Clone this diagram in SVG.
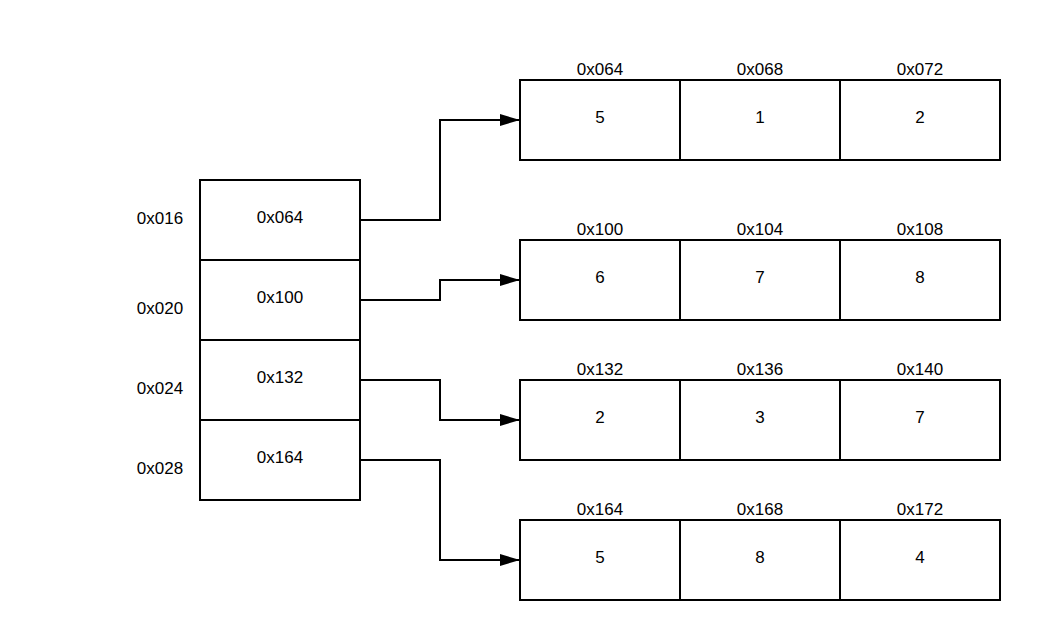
<svg xmlns="http://www.w3.org/2000/svg" width="1040" height="640" viewBox="0 0 1040 640">
<style>
.box{fill:#fff;stroke:#000;stroke-width:2}
.t{font-family:"Liberation Sans",Arial,sans-serif;font-size:17px;fill:#000;text-anchor:middle;dominant-baseline:central}
.c{fill:none;stroke:#000;stroke-width:2}
</style>
<defs>
<marker id="arr" markerWidth="20" markerHeight="12" refX="20" refY="6" orient="auto" markerUnits="userSpaceOnUse">
<path d="M0,0 L20,6 L0,12 Z" fill="#000"/>
</marker>
</defs>
<rect width="1040" height="640" fill="#fff"/>
<g id="pointers">
<rect class="box" x="200" y="180" width="160" height="80"/>
<rect class="box" x="200" y="260" width="160" height="80"/>
<rect class="box" x="200" y="340" width="160" height="80"/>
<rect class="box" x="200" y="420" width="160" height="80"/>
<text class="t" x="280" y="217">0x064</text>
<text class="t" x="280" y="297">0x100</text>
<text class="t" x="280" y="377">0x132</text>
<text class="t" x="280" y="457">0x164</text>
<text class="t" x="160" y="218">0x016</text>
<text class="t" x="160" y="308">0x020</text>
<text class="t" x="160" y="388">0x024</text>
<text class="t" x="160" y="468">0x028</text>
</g>
<g id="array1">
<rect class="box" x="520" y="80" width="160" height="80"/>
<rect class="box" x="680" y="80" width="160" height="80"/>
<rect class="box" x="840" y="80" width="160" height="80"/>
<text class="t" x="600" y="69">0x064</text>
<text class="t" x="760" y="69">0x068</text>
<text class="t" x="920" y="69">0x072</text>
<text class="t" x="600" y="117">5</text>
<text class="t" x="760" y="117">1</text>
<text class="t" x="920" y="117">2</text>
</g>
<g id="array2">
<rect class="box" x="520" y="240" width="160" height="80"/>
<rect class="box" x="680" y="240" width="160" height="80"/>
<rect class="box" x="840" y="240" width="160" height="80"/>
<text class="t" x="600" y="229">0x100</text>
<text class="t" x="760" y="229">0x104</text>
<text class="t" x="920" y="229">0x108</text>
<text class="t" x="600" y="277">6</text>
<text class="t" x="760" y="277">7</text>
<text class="t" x="920" y="277">8</text>
</g>
<g id="array3">
<rect class="box" x="520" y="380" width="160" height="80"/>
<rect class="box" x="680" y="380" width="160" height="80"/>
<rect class="box" x="840" y="380" width="160" height="80"/>
<text class="t" x="600" y="369">0x132</text>
<text class="t" x="760" y="369">0x136</text>
<text class="t" x="920" y="369">0x140</text>
<text class="t" x="600" y="417">2</text>
<text class="t" x="760" y="417">3</text>
<text class="t" x="920" y="417">7</text>
</g>
<g id="array4">
<rect class="box" x="520" y="520" width="160" height="80"/>
<rect class="box" x="680" y="520" width="160" height="80"/>
<rect class="box" x="840" y="520" width="160" height="80"/>
<text class="t" x="600" y="509">0x164</text>
<text class="t" x="760" y="509">0x168</text>
<text class="t" x="920" y="509">0x172</text>
<text class="t" x="600" y="557">5</text>
<text class="t" x="760" y="557">8</text>
<text class="t" x="920" y="557">4</text>
</g>
<g id="connectors">
<path class="c" d="M360,220 H440 V120 H520" marker-end="url(#arr)"/>
<path class="c" d="M360,300 H440 V280 H520" marker-end="url(#arr)"/>
<path class="c" d="M360,380 H440 V420 H520" marker-end="url(#arr)"/>
<path class="c" d="M360,460 H440 V560 H520" marker-end="url(#arr)"/>
</g>
</svg>
